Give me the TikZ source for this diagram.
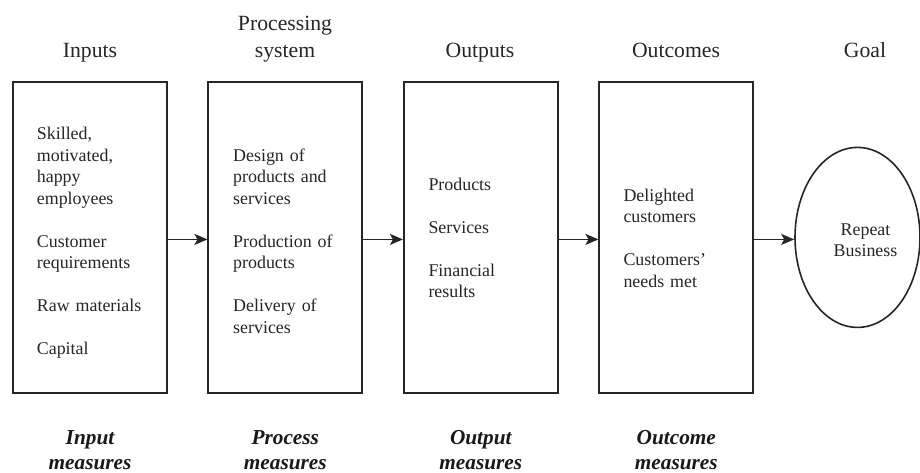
\documentclass[tikz,border=0pt]{standalone}
\usepackage{fontspec}
\setmainfont{Liberation Serif}
\usetikzlibrary{arrows.meta,shapes.geometric}
\begin{document}
\begin{tikzpicture}[x=1pt,y=-1pt,
  box/.style={draw=black!85, line width=1.7pt, minimum width=154pt, minimum height=311pt, inner sep=0pt},
  body/.style={font=\fontsize{17.9}{21.5}\selectfont, text=black!85, text width=135pt, align=left, anchor=base west, inner sep=0pt},
  title/.style={font=\fontsize{21.7}{26.5}\selectfont, text=black!85, text width=170pt, align=center, anchor=base, inner sep=0pt},
  measure/.style={font=\fontsize{21.3}{25}\selectfont\bfseries\itshape, text=black!90, text width=170pt, align=center, anchor=base, inner sep=0pt},
  arr/.style={-{Stealth[length=13pt,width=11pt,inset=3pt]}, line width=1.6pt, draw=black!85},
  goalshape/.style={draw=black!85, ellipse, line width=1.6pt, minimum width=125pt, minimum height=180pt, inner sep=0pt}
]
\path[use as bounding box, fill=white] (0,0) rectangle (920,472);

% boxes
\node[box] (b1) at (89.7,237.4) {};
\node[box] (b2) at (285.3,237.4) {};
\node[box] (b3) at (480.8,237.4) {};
\node[box] (b4) at (676.3,237.4) {};
\node[goalshape] (goal) at (857.5,237.4) {};

% titles
\node[title] (t1) at (90,57) {Inputs};
\node[title] (t2) at (285,30.5) {Processing\\system};
\node[title] (t3) at (480,57) {Outputs};
\node[title] (t4) at (676,57) {Outcomes};
\node[title] (t5) at (865,57) {Goal};

% contents
\node[body] (c1) at (36.7,139.5) {Skilled,\\motivated,\\happy\\employees\\[21.5pt]Customer\\requirements\\[21.5pt]Raw materials\\[21.5pt]Capital};
\node[body] (c2) at (233,161) {Design of\\products and\\services\\[21.5pt]Production of\\products\\[21.5pt]Delivery of\\services};
\node[body] (c3) at (428.3,190) {Products\\[21.5pt]Services\\[21.5pt]Financial\\results};
\node[body] (c4) at (623.3,201) {Delighted\\customers\\[21.5pt]Customers'\\needs met};
\node[font=\fontsize{17.9}{21.5}\selectfont, text=black!85, text width=100pt, align=center, anchor=base, inner sep=0pt] (gtext) at (865.5,235) {Repeat\\Business};

% measures
\node[measure] (m1) at (90,444) {Input\\measures};
\node[measure] (m2) at (285.3,444) {Process\\measures};
\node[measure] (m3) at (480.8,444) {Output\\measures};
\node[measure] (m4) at (676.3,444) {Outcome\\measures};

% arrows
\draw[arr] ([yshift=-2pt]b1.east) -- ([yshift=-2pt]b2.west);
\draw[arr] ([yshift=-2pt]b2.east) -- ([yshift=-2pt]b3.west);
\draw[arr] ([yshift=-2pt]b3.east) -- ([yshift=-2pt]b4.west);
\draw[arr] ([yshift=-2pt]b4.east) -- ([yshift=-2pt]goal.west);
\end{tikzpicture}
\end{document}
